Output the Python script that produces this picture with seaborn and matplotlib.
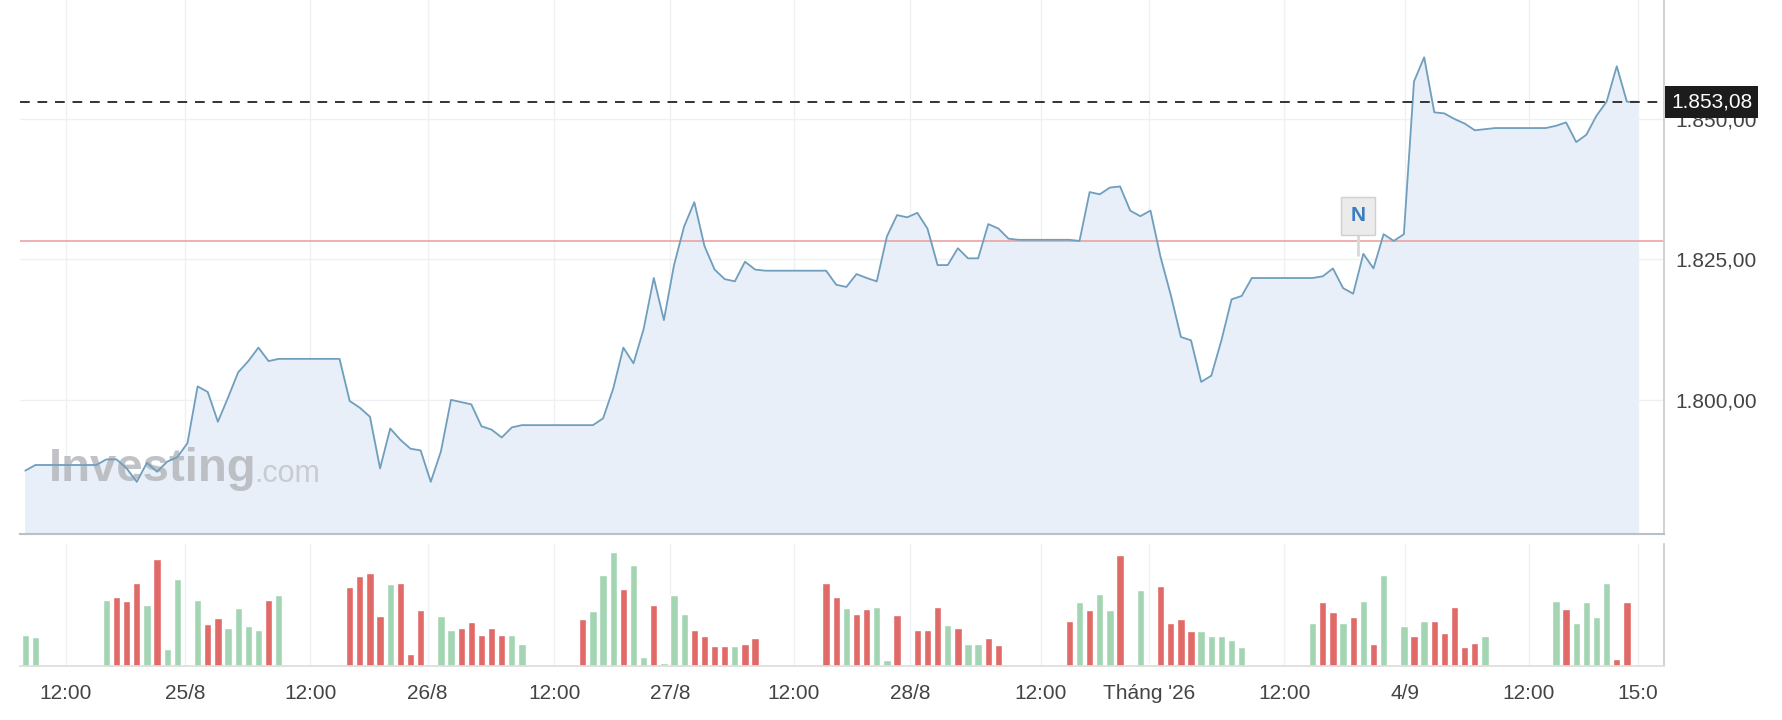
import numpy as np
import matplotlib
matplotlib.use("Agg")
import matplotlib.pyplot as plt
import matplotlib.transforms as mtransforms
import seaborn as sns
import pandas as pd

# hourly slots
price = [1787.4, 1788.4, 1788.4, 1788.4, 1788.4, 1788.4, 1788.4, 1788.4, 1789.4, 1789.4,
         1787.8, 1785.4, 1788.8, 1787.2, 1789.0, 1789.8, 1792.3, 1802.4, 1801.4, 1796.1,
         1800.4, 1804.9, 1806.9, 1809.3, 1806.9, 1807.3, 1807.3, 1807.3, 1807.3, 1807.3,
         1807.3, 1807.3, 1799.8, 1798.6, 1797.0, 1787.8, 1794.9, 1792.9, 1791.3, 1791.0,
         1785.4, 1790.8, 1800.0, 1799.6, 1799.2, 1795.3, 1794.7, 1793.3, 1795.1, 1795.5,
         1795.5, 1795.5, 1795.5, 1795.5, 1795.5, 1795.5, 1795.5, 1796.7, 1802.0, 1809.3,
         1806.5, 1812.6, 1821.7, 1814.2, 1824.0, 1830.9, 1835.2, 1827.4, 1823.2, 1821.5,
         1821.1, 1824.6, 1823.2, 1823.0, 1823.0, 1823.0, 1823.0, 1823.0, 1823.0, 1823.0,
         1820.5, 1820.1, 1822.4, 1821.7, 1821.1, 1829.1, 1832.9, 1832.5, 1833.3, 1830.5,
         1824.0, 1824.0, 1827.0, 1825.2, 1825.2, 1831.3, 1830.5, 1828.7, 1828.5, 1828.5,
         1828.5, 1828.5, 1828.5, 1828.5, 1828.3, 1837.0, 1836.6, 1837.8, 1838.0, 1833.7,
         1832.7, 1833.7, 1825.4, 1818.7, 1811.2, 1810.6, 1803.2, 1804.3, 1810.6, 1817.9,
         1818.5, 1821.7, 1821.7, 1821.7, 1821.7, 1821.7, 1821.7, 1821.7, 1822.0, 1823.4,
         1819.9, 1818.9, 1826.0, 1823.4, 1829.5, 1828.3, 1829.5, 1856.7, 1861.0, 1851.2,
         1851.0, 1850.0, 1849.2, 1848.0, 1848.2, 1848.4, 1848.4, 1848.4, 1848.4, 1848.4,
         1848.4, 1848.8, 1849.4, 1845.9, 1847.2, 1850.6, 1853.1, 1859.4, 1853.08, 1853.08]

vol_starts = [0, 8, 32, 55, 79, 103, 127, 151]
vol_values = [
    [27, 25],
    [57, 59, 56, 71, 52, 92, 15, 75, 1, 57, 36, 41, 33, 50, 34, 31, 57, 61],
    [68, 77, 80, 43, 70, 71, 10, 48, 0, 43, 31, 33, 38, 27, 33, 27, 27, 19],
    [40, 47, 78, 98, 66, 87, 8, 52, 3, 61, 45, 31, 26, 17, 17, 17, 19, 24],
    [71, 59, 50, 45, 49, 51, 5, 44, 0, 31, 31, 51, 35, 33, 19, 19, 24, 18],
    [39, 55, 48, 62, 48, 95, 1, 65, 1, 69, 37, 40, 30, 30, 26, 26, 22, 16],
    [37, 55, 46, 37, 42, 56, 19, 78, 0, 34, 26, 39, 39, 28, 51, 16, 20, 26],
    [56, 49, 37, 55, 42, 71, 6, 55],
]
vol_dirs = ["gg", "grrrgrggggrrggggrg", "rrrrgrrrgggrrrrrgg", "rgggrggrgggrrrrgrr",
            "rrgrrggrgrrrgrggrr", "rgrggrrgrrrrrggggg", "grrgrgrgggrgrrrrrg", "grggggrr"]

tick_pos = [4, 15.8, 28.1, 39.7, 52.2, 63.6, 75.8, 87.3, 100.2, 110.9, 124.2, 136.1, 148.3, 159.1]
tick_labels = ["12:00", "25/8", "12:00", "26/8", "12:00", "27/8", "12:00", "28/8",
               "12:00", "Tháng '26", "12:00", "4/9", "12:00", "15:0"]
y_ticks = [1800, 1825, 1850]
y_tick_labels = ["1.800,00", "1.825,00", "1.850,00"]
last_price = 1853.08
ref_level = 1828.3
news_slot = 131.5
news_level = 1832.8

sns.set_theme(style="white")
plt.rcParams['font.family'] = ['Liberation Sans', 'DejaVu Sans']

fig = plt.figure(figsize=(17.82, 7.2), dpi=100)
ax = fig.add_axes([0.011, 0.259, 0.923, 0.741])
axv = fig.add_axes([0.011, 0.075, 0.923, 0.17], sharex=ax)

df = pd.DataFrame({"slot": np.arange(len(price)), "price": price})
line_col = "#6f9fbd"
ax.fill_between(df["slot"], df["price"], 1770, color="#e8eff8", zorder=1)
sns.lineplot(data=df, x="slot", y="price", ax=ax, color=line_col, lw=1.3, zorder=3)
ax.set_ylim(1776.2, 1871.2)
ax.set_xlim(-0.56, 161.7)
ax.set_xlabel(""); ax.set_ylabel("")

gridc = "#eef0f3"
for t in tick_pos:
    ax.axvline(t, color=gridc, lw=1, zorder=0)
    axv.axvline(t, color=gridc, lw=1, zorder=0)
for y in y_ticks:
    ax.axhline(y, color=gridc, lw=1, zorder=0)

ax.axhline(ref_level, color="#eca3a3", lw=1.2, zorder=2)
ax.axhline(last_price, color="#333333", lw=1.4, ls=(0, (5, 4)), zorder=4)

ax.yaxis.tick_right()
ax.set_yticks(y_ticks)
ax.set_yticklabels(y_tick_labels, fontsize=15, color="#444444")
ax.tick_params(axis="y", length=0, pad=8)
ax.tick_params(axis="x", length=0, labelbottom=False)
for s in ["top", "left"]:
    ax.spines[s].set_visible(False)
ax.spines["right"].set_color("#cccccc")
ax.spines["bottom"].set_color("#b8c0c8")
ax.spines["bottom"].set_linewidth(1.5)

trans = mtransforms.blended_transform_factory(ax.transAxes, ax.transData)
ax.text(1.004, last_price, "1.853,08", transform=trans, fontsize=15, color="white",
        va="center", ha="left", zorder=10,
        bbox=dict(boxstyle="square,pad=0.3", fc="#1c1c1c", ec="none"))

# News marker
ax.plot([news_slot, news_slot], [news_level - 3.5, ref_level - 2.5], color="#d8d8d8", lw=2, zorder=5)
ax.text(news_slot, news_level, "N", fontsize=15, fontweight="bold", color="#3a7cc0",
        ha="center", va="center", zorder=6,
        bbox=dict(boxstyle="square,pad=0.45", fc="#ebebeb", ec="#d0d0d0"))

# watermark
ax.text(0.018, 0.12, "Investing", transform=ax.transAxes, fontsize=34, fontweight="bold",
        color="#b5b8bc", alpha=0.85, va="center", ha="left", zorder=2)
ax.text(0.1425, 0.112, ".com", transform=ax.transAxes, fontsize=22,
        color="#c3c6ca", alpha=0.85, va="center", ha="left", zorder=2)

# volume
green, red = "#a3d5b3", "#e06a68"
vx, vy, vc = [], [], []
for st, vals, dirs in zip(vol_starts, vol_values, vol_dirs):
    for k, (v, d) in enumerate(zip(vals, dirs)):
        vx.append(st + k); vy.append(v); vc.append(green if d == "g" else red)
vdf = pd.DataFrame({"slot": vx, "vol": vy, "c": vc})
axv.bar(vdf["slot"], vdf["vol"], width=0.72, color=vdf["c"], zorder=2)
axv.set_ylim(0, 105)
axv.set_yticks([])
axv.set_xticks(tick_pos)
axv.set_xticklabels(tick_labels, fontsize=15, color="#444444")
axv.tick_params(axis="x", length=5, color="#cccccc", pad=8)
for s in ["top", "left"]:
    axv.spines[s].set_visible(False)
axv.spines["right"].set_color("#cccccc")
axv.spines["bottom"].set_color("#dddddd")

fig.savefig("out.png", dpi=100, facecolor="white")
